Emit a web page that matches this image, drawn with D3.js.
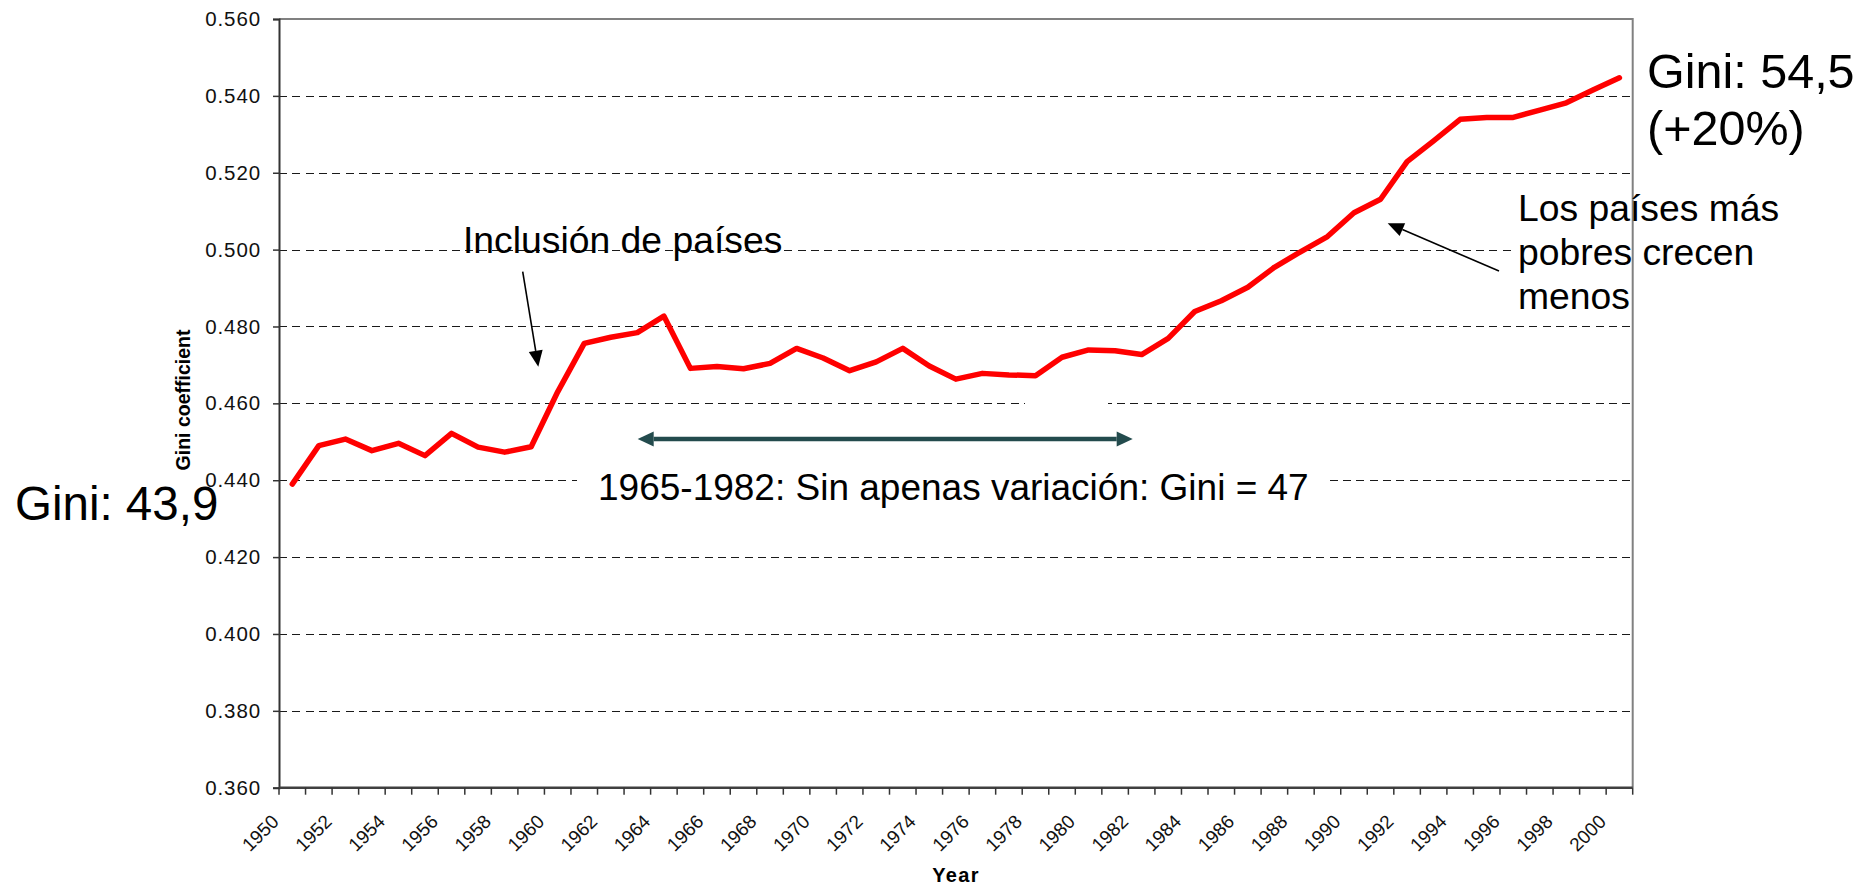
<!DOCTYPE html>
<html>
<head>
<meta charset="utf-8">
<script src="https://cdn.jsdelivr.net/npm/d3@7"></script>
<style>
  body { margin: 0; background: #fff; }
  svg { display: block; font-family: "Liberation Sans", Arial, sans-serif; }
</style>
</head>
<body>
<svg id="chart"></svg>
<script>
const years = [1950, 1951, 1952, 1953, 1954, 1955, 1956, 1957, 1958, 1959,
    1960, 1961, 1962, 1963, 1964, 1965, 1966, 1967, 1968, 1969,
    1970, 1971, 1972, 1973, 1974, 1975, 1976, 1977, 1978, 1979,
    1980, 1981, 1982, 1983, 1984, 1985, 1986, 1987, 1988, 1989,
    1990, 1991, 1992, 1993, 1994, 1995, 1996, 1997, 1998, 1999, 2000]

const gini = [0.4390, 0.4490, 0.4507, 0.4477, 0.4496, 0.4464, 0.4522, 0.4486, 0.4473, 0.4487,
    0.4630, 0.4756, 0.4772, 0.4784, 0.4827, 0.4691, 0.4696, 0.4690, 0.4704, 0.4743,
    0.4718, 0.4685, 0.4708, 0.4743, 0.4697, 0.4663, 0.4678, 0.4674, 0.4672, 0.4720,
    0.4739, 0.4737, 0.4727, 0.4769, 0.4839, 0.4867, 0.4902, 0.4954, 0.4995, 0.5034,
    0.5096, 0.5131, 0.5229, 0.5283, 0.5339, 0.5344, 0.5344, 0.5363, 0.5382, 0.5415, 0.5447]

const yTicks = [0.36, 0.38, 0.40, 0.42, 0.44, 0.46, 0.48, 0.50, 0.52, 0.54, 0.56]
const yearLabels = [1950, 1952, 1954, 1956, 1958, 1960, 1962, 1964, 1966, 1968, 1970,
    1972, 1974, 1976, 1978, 1980, 1982, 1984, 1986, 1988, 1990, 1992, 1994, 1996, 1998, 2000]

const data = years.map((year, i) => ({year, value: gini[i]}))

const width = 1869
const height = 885
const plot = {left: 279, right: 1632.7, top: 19, bottom: 787.7}

const x = d3.scaleBand()
    .domain(years)
    .range([plot.left, plot.right])
    .padding(0)

const y = d3.scaleLinear()
    .domain([0.36, 0.56])
    .range([plot.bottom, plot.top])

const svg = d3.select("svg#chart")
    .attr("width", width)
    .attr("height", height)

// dashed gridlines
svg.append("g")
    .attr("shape-rendering", "crispEdges")
    .selectAll("line")
    .data(yTicks.filter(t => t > 0.361 && t < 0.559))
    .join("line")
    .attr("x1", plot.left)
    .attr("x2", plot.right)
    .attr("y1", d => Math.round(y(d)) + 0.5)
    .attr("y2", d => Math.round(y(d)) + 0.5)
    .attr("stroke", "#1a1a1a")
    .attr("stroke-width", 1)
    .attr("stroke-dasharray", "8,5.3")

// white text boxes that hide parts of the grid
const boxes = [
    {x: 577, y: 455, w: 753, h: 58},
    {x: 1025, y: 398, w: 83, h: 10},
    {x: 1512, y: 190, w: 278, h: 128}
]
svg.append("g")
    .selectAll("rect")
    .data(boxes)
    .join("rect")
    .attr("x", d => d.x)
    .attr("y", d => d.y)
    .attr("width", d => d.w)
    .attr("height", d => d.h)
    .attr("fill", "#fff")

// plot border top/right
svg.append("path")
    .attr("d", `M${plot.left},${plot.top}H${plot.right}V${plot.bottom}`)
    .attr("fill", "none")
    .attr("stroke", "#808080")
    .attr("stroke-width", 2)

// the gini line
const line = d3.line()
    .x(d => x(d.year) + x.bandwidth() / 2)
    .y(d => y(d.value))

svg.append("path")
    .datum(data)
    .attr("d", line)
    .attr("fill", "none")
    .attr("stroke", "#ff0000")
    .attr("stroke-width", 5.5)
    .attr("stroke-linejoin", "round")
    .attr("stroke-linecap", "round")

// y axis
const yAxis = g => g
    .attr("transform", `translate(${plot.left},0)`)
    .call(d3.axisLeft(y)
        .tickValues(yTicks)
        .tickFormat(d3.format(".3f"))
        .tickSizeOuter(0)
        .tickSize(6)
        .tickPadding(12))
    .call(g => g.select(".domain").attr("stroke", "#333").attr("stroke-width", 2))
    .call(g => g.selectAll(".tick line").attr("stroke", "#333").attr("stroke-width", 1.5))
    .call(g => g.selectAll(".tick text")
        .attr("font-family", "Liberation Sans, Arial, sans-serif")
        .attr("font-size", 20.5)
        .attr("letter-spacing", 0.9)
        .attr("fill", "#111"))

svg.append("g").call(yAxis)

// x axis: ticks at every category boundary
const xAxis = g => g
    .attr("transform", `translate(0,${plot.bottom})`)
    .call(g => g.append("line")
        .attr("x1", plot.left)
        .attr("x2", plot.right)
        .attr("stroke", "#404040")
        .attr("stroke-width", 2.5))
    .call(g => g.selectAll(".tk")
        .data(years.map(d => x(d)).concat([plot.right]))
        .join("line")
        .attr("class", "tk")
        .attr("x1", d => d)
        .attr("x2", d => d)
        .attr("y1", 0)
        .attr("y2", 7)
        .attr("stroke", "#333")
        .attr("stroke-width", 1.5))
    .call(g => g.selectAll("text")
        .data(yearLabels)
        .join("text")
        .attr("transform", d => `translate(${x(d) + 1},35) rotate(-45)`)
        .attr("text-anchor", "end")
        .attr("font-size", 19)
        .attr("fill", "#111")
        .text(d => d))

svg.append("g").call(xAxis)

// axis titles
svg.append("text")
    .attr("transform", "translate(190,400) rotate(-90)")
    .attr("text-anchor", "middle")
    .attr("font-size", 19.5)
    .attr("font-weight", "bold")
    .text("Gini coefficient")

svg.append("text")
    .attr("x", 956)
    .attr("y", 882)
    .attr("text-anchor", "middle")
    .attr("font-size", 20)
    .attr("font-weight", "bold")
    .attr("letter-spacing", 1.3)
    .text("Year")

// annotations
const notes = [
    {x: 15, y: 520, size: 47.5, lines: ["Gini: 43,9"]},
    {x: 1647, y: 88, size: 48.5, lines: ["Gini: 54,5", "(+20%)"], lh: 57},
    {x: 463, y: 253, size: 37.3, lines: ["Inclusión de países"]},
    {x: 598, y: 500, size: 37, lines: ["1965-1982: Sin apenas variación: Gini = 47"]},
    {x: 1518, y: 221, size: 37.3, lines: ["Los países más", "pobres crecen", "menos"], lh: 44}
]

notes.forEach(n => {
    const t = svg.append("text")
        .attr("font-size", n.size)
        .attr("fill", "#000")
    n.lines.forEach((l, i) => t.append("tspan")
        .attr("x", n.x)
        .attr("y", n.y + i * (n.lh || 0))
        .text(l))
})

function arrow(x1, y1, x2, y2, color, w, headLen, headW) {
    const a = Math.atan2(y2 - y1, x2 - x1)
    const bx = x2 - headLen * Math.cos(a)
    const by = y2 - headLen * Math.sin(a)
    const px = Math.sin(a) * headW / 2
    const py = -Math.cos(a) * headW / 2
    svg.append("line")
        .attr("x1", x1).attr("y1", y1)
        .attr("x2", bx).attr("y2", by)
        .attr("stroke", color)
        .attr("stroke-width", w)
    svg.append("path")
        .attr("d", `M${x2},${y2}L${bx + px},${by + py}L${bx - px},${by - py}Z`)
        .attr("fill", color)
}

arrow(522.7, 271.7, 538.3, 366.7, "#000", 1.6, 16, 14)
arrow(1499, 271, 1387.7, 223.3, "#000", 1.6, 16, 14)
arrow(885, 439, 637.7, 439, "#234b4d", 4.5, 16, 15)
arrow(885, 439, 1132.7, 439, "#234b4d", 4.5, 16, 15)
</script>
</body>
</html>
